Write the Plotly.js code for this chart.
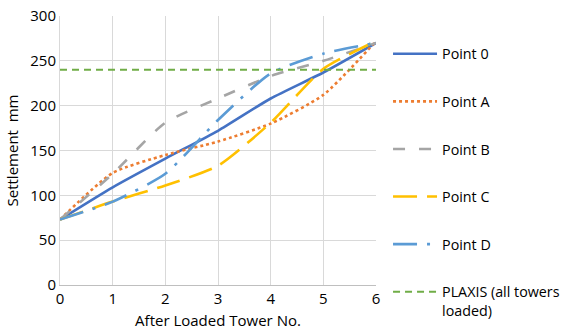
<!DOCTYPE html>
<html><head><meta charset="utf-8">
<script src="https://cdn.plot.ly/plotly-3.0.1.min.js"></script>
<style>body{margin:0;background:#fff}#c{width:564px;height:336px}</style>
</head><body><div id="c"></div>
<script>
const towers = [0, 1, 2, 3, 4, 5, 6];
const point0 = [73, 109, 141, 172, 208, 237, 270];
const pointA = [73, 125, 145, 160, 180, 212, 272];
const pointB = [73, 124, 181, 208, 233, 250, 270];
const pointC = [73, 93, 111, 133, 181, 241, 272];
const pointD = [73, 93, 124, 184, 236, 258, 270];
const plaxisX = [0, 6];
const plaxisY = [240, 240];
const names = ['Point 0', 'Point A', 'Point B', 'Point C', 'Point D', 'PLAXIS (all towers<br>loaded)'];

const mk = (x, y, name, color, dash, shape, g) => ({
  x, y, name, type: 'scatter', mode: 'lines', legendgroup: g,
  line: {color, width: 2.6, dash, shape, smoothing: 0.6}
});
const data = [
  mk(towers, point0, names[0], '#4472C4', 'solid', 'spline', 'g0'),
  mk(towers, pointA, names[1], '#ED7D31', 'dot', 'spline', 'g1'),
  mk(towers, pointB, names[2], '#A5A5A5', '12px,14px', 'spline', 'g2'),
  mk(towers, pointC, names[3], '#FFC000', '24px,10px', 'spline', 'g3'),
  mk(towers, pointD, names[4], '#5B9BD5', '24px,10px,3px,10px', 'spline', 'g4'),
  mk(plaxisX, plaxisY, names[5], '#70AD47', '7px,5px', 'linear', 'g5')
];
data[5].line.width = 2;
const layout = {
  width: 564, height: 336,
  margin: {l: 60, r: 188, t: 16, b: 51},
  paper_bgcolor: '#fff', plot_bgcolor: '#fff',
  font: {family: 'Open Sans, Liberation Sans, sans-serif', size: 14, color: '#000'},
  xaxis: {range: [0, 6], dtick: 1, tick0: 0, showgrid: true, gridcolor: '#d9d9d9',
    zeroline: false, showline: true, linecolor: '#bfbfbf', ticks: '',
    tickfont: {size: 15},
    title: {text: 'After Loaded Tower No.', font: {size: 15}, standoff: 8}},
  yaxis: {range: [0, 300], dtick: 50, tick0: 0, showgrid: true, gridcolor: '#d9d9d9',
    zeroline: false, showline: true, linecolor: '#d9d9d9', ticks: '',
    tickfont: {size: 15},
    title: {text: 'Settlement  mm', font: {size: 15}, standoff: 8}},
  showlegend: true,
  legend: {xref: 'container', yref: 'container', x: 0.688, xanchor: 'left',
    y: 0.887, yanchor: 'top', traceorder: 'grouped',
    tracegroupgap: 26, itemwidth: 44, valign: 'top', maxheight: 320,
    font: {size: 14.3}, bgcolor: 'rgba(0,0,0,0)'}
};
Plotly.newPlot('c', data, layout, {displayModeBar: false, staticPlot: true});
</script></body></html>
